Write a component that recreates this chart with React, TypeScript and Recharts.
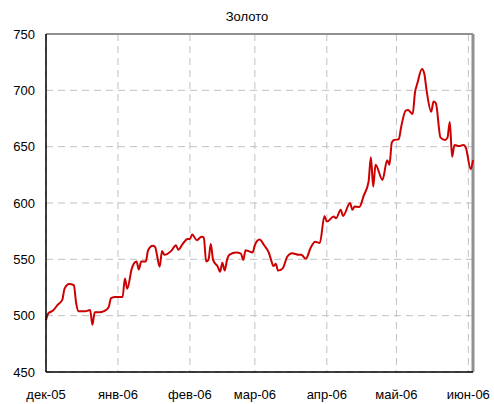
import React from "react";
import { LineChart, Line, XAxis, YAxis, CartesianGrid, ReferenceLine } from "recharts";

// days since 1 Dec 2005
const days = [
  0, 1, 3, 5, 7, 8, 10, 12, 13, 14, 17, 19, 20, 21, 23, 25, 27, 28, 30, 33,
  34, 35, 37, 39, 40, 41, 43, 44, 46, 47, 49, 50, 51, 54, 56, 57, 59, 61, 62, 63,
  65, 67, 68, 69, 70, 71, 72, 74, 75, 76, 77, 78, 79, 82, 84, 85, 86, 87, 89, 90,
  92, 94, 96, 97, 98, 99, 100, 102, 104, 106, 109, 110, 112, 114, 116, 118, 120, 121, 124, 125,
  127, 128, 131, 132, 133, 135, 137, 139, 140, 141, 142, 145, 147, 148, 149, 150, 152, 153, 155, 156,
  158, 159, 160, 162, 163, 164, 166, 167, 168, 170, 172, 173, 174, 175, 176, 178, 180, 181, 183, 184,
];

const prices = [
  496, 502, 504.5, 509.5, 514, 524, 528, 527, 511, 504, 504, 505, 492, 503, 503, 504, 507.5, 515.5, 516.5, 516.5,
  533, 524, 542, 548, 541, 548, 548, 558, 562, 561, 543.5, 557.5, 554, 557.5, 562.5, 558.5, 564, 568, 568, 572,
  567, 570, 569.5, 548, 549.5, 563.5, 549.5, 543.5, 539, 547, 540, 549.5, 554, 556, 555, 549.5, 558, 557.5, 556, 562.5,
  567.5, 562.5, 556, 549.5, 544, 546, 540, 542, 552.5, 555.5, 554, 554, 550.5, 560, 565.5, 564.5, 588.5, 583.5, 588, 586.5,
  594, 588.5, 600, 594, 597, 596.5, 607, 619, 640.5, 614.5, 634, 620.5, 638, 634, 653.5, 656, 656.5, 667, 682, 682.5,
  679, 698, 706, 719, 715, 700, 681, 690, 688.5, 658, 656, 658, 672, 641, 651.5, 650.5, 651.5, 648.5, 630, 638,
];

const monthTicks = [0, 31, 62, 90, 121, 151, 182];
const monthLabels = ["дек-05", "янв-06", "фев-06", "мар-06", "апр-06", "май-06", "июн-06"];
const valueTicks = [450, 500, 550, 600, 650, 700, 750];
const title = "Золото";

const data = days.map((d, i) => ({ day: d, price: prices[i] }));

const FONT = "'Liberation Sans', Arial, sans-serif";

export default function App() {
  return (
    <div style={{ position: "absolute", left: 0, top: 0, width: 494, height: 404, background: "#fff" }}>
      <div
        style={{
          position: "absolute",
          left: 0,
          top: 9,
          width: 494,
          height: 16,
          lineHeight: "16px",
          textAlign: "center",
          fontFamily: FONT,
          fontSize: 13,
          color: "#000",
        }}
      >
        {title}
      </div>
      <LineChart
        width={494}
        height={404}
        data={data}
        margin={{ top: 34, right: 21, bottom: 2, left: 6 }}
      >
        <CartesianGrid stroke="#c0c0c0" strokeDasharray="7 5" />
        <XAxis
          dataKey="day"
          type="number"
          domain={[0, 184]}
          ticks={monthTicks}
          interval={0}
          height={30}
          tickLine={false}
          tickSize={6}
          tickMargin={12}
          axisLine={{ stroke: "#000", strokeWidth: 1.5 }}
          tickFormatter={(v: number) => monthLabels[monthTicks.indexOf(v)] ?? ""}
          tick={{ fill: "#000", fontSize: 13, fontFamily: FONT }}
        />
        <YAxis
          type="number"
          domain={[450, 750]}
          ticks={valueTicks}
          interval={0}
          width={40}
          tickLine={false}
          tickSize={6}
          tickMargin={5}
          axisLine={{ stroke: "#000", strokeWidth: 1.5 }}
          tick={{ fill: "#000", fontSize: 13, fontFamily: FONT }}
        />
        <ReferenceLine y={750} stroke="#909090" strokeWidth={2} />
        <ReferenceLine x={184} stroke="#909090" strokeWidth={3} />
        <Line
          type="monotone"
          dataKey="price"
          stroke="#cc0000"
          strokeWidth={2}
          dot={false}
          isAnimationActive={false}
        />
      </LineChart>
    </div>
  );
}
